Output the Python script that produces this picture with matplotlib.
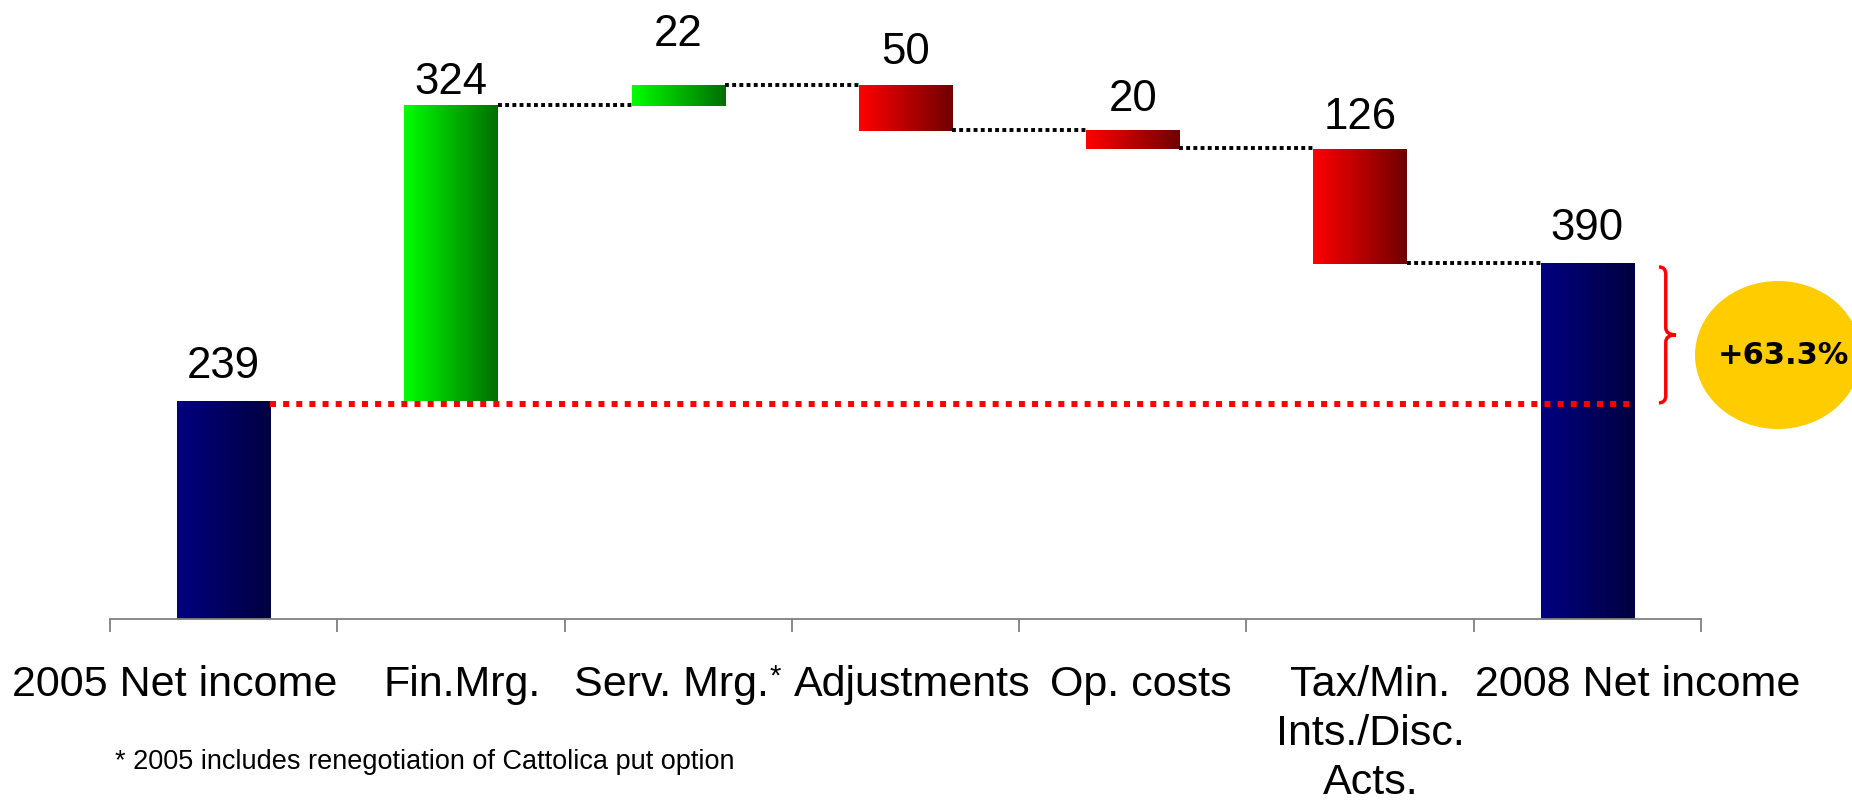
import matplotlib
matplotlib.use("Agg")
import matplotlib.pyplot as plt
import numpy as np
from matplotlib.patches import Ellipse, PathPatch
from matplotlib.path import Path

# Waterfall data (EUR mln)
categories = ["2005 Net income", "Fin.Mrg.", "Serv. Mrg.", "Adjustments",
              "Op. costs", "Tax/Min.\nInts./Disc.\nActs.", "2008 Net income"]
values = [239, 324, 22, -50, -20, -126, 390]
kinds = ["total", "up", "up", "down", "down", "down", "total"]
starred = [False, False, True, False, False, False, False]
growth_label = "+63.3%"
footnote = "* 2005 includes renegotiation of Cattolica put option"

plt.rcParams['font.family'] = ['Liberation Sans', 'DejaVu Sans']

gradients = {
    "total": ((0, 0, 128), (0, 0, 64)),
    "up": ((0, 255, 0), (0, 110, 0)),
    "down": ((255, 0, 0), (112, 0, 0)),
}

W, H, dpi = 1852, 801, 100
fig = plt.figure(figsize=(W / dpi, H / dpi), dpi=dpi)
ax = fig.add_axes([110 / W, 1 - 619 / H, (1701 - 110) / W, 619 / H])

bar_w = 0.41
label_pad = [10, 2, 22, 9, 8, 8, 10]       # points above bar top
name_dx = [-0.215, 0.05, -0.03, 0.03, 0.035, 0.045, 0.22]

# compute bar bottoms / tops
running = 0
bottoms, tops = [], []
for v, k in zip(values, kinds):
    if k == "total":
        bottoms.append(0)
        tops.append(v)
        running = v
    else:
        bottoms.append(min(running, running + v))
        tops.append(max(running, running + v))
        running += v

xs = np.arange(len(values))
for i, (x, b, t, k) in enumerate(zip(xs, bottoms, tops, kinds)):
    c0, c1 = gradients[k]
    n = 256
    f = np.linspace(0, 1, n)[None, :, None]
    img = (np.array(c0)[None, None, :] * (1 - f) + np.array(c1)[None, None, :] * f) / 255.0
    ax.imshow(img, extent=[x - bar_w / 2, x + bar_w / 2, b, t],
              aspect='auto', interpolation='bilinear', zorder=2)
    ax.annotate(str(abs(values[i])), (x, t), xytext=(0, label_pad[i]),
                textcoords='offset points', ha='center', va='bottom',
                fontsize=31.5, color='black')

# connectors
for i in range(1, len(values) - 1):
    level = tops[i] if values[i] > 0 else bottoms[i]
    ax.plot([xs[i] + bar_w / 2, xs[i + 1] - bar_w / 2], [level + 1, level + 1],
            color='black', lw=2.8, linestyle=(0, (1, 0.85)), zorder=3)

# red reference line at 2005 level
ax.plot([xs[0] + bar_w / 2, xs[-1] + bar_w / 2 - 0.02], [values[0] - 3, values[0] - 3],
        color='#ff0000', lw=4.3, linestyle=(0, (1, 1.2)), zorder=4)

# brace between 2005 and 2008 levels
y_top, y_bot = values[-1] - 4, values[0] - 2
y_mid = (y_top + y_bot) / 2
x0, x1, x2 = 6.315, 6.345, 6.39
r = 8
verts = [(x0, y_top), (x1, y_top), (x1, y_top - r),
         (x1, y_mid + r), (x1, y_mid), (x2, y_mid),
         (x1, y_mid), (x1, y_mid - r),
         (x1, y_bot + r), (x1, y_bot), (x0, y_bot)]
codes = [Path.MOVETO, Path.CURVE3, Path.CURVE3,
         Path.LINETO, Path.CURVE3, Path.CURVE3,
         Path.CURVE3, Path.CURVE3,
         Path.LINETO, Path.CURVE3, Path.CURVE3]
ax.add_patch(PathPatch(Path(verts, codes), facecolor='none', edgecolor='#ff0000',
                       lw=2.5, clip_on=False, zorder=5))

ax.set_xlim(-0.5, len(values) - 0.5)
ax.set_ylim(0, 619 / 0.912)

for s in ['top', 'right', 'left']:
    ax.spines[s].set_visible(False)
ax.spines['bottom'].set_color('#808080')
ax.spines['bottom'].set_linewidth(1.3)
ax.set_yticks([])
ax.set_xticks(np.arange(-0.5, len(values)))
ax.set_xticklabels([])
ax.tick_params(axis='x', direction='out', length=9, width=1.3, color='#808080')

for i, name in enumerate(categories):
    t = ax.text(xs[i] + name_dx[i], -0.075, name, transform=ax.get_xaxis_transform(),
                ha='center', va='top', fontsize=31, linespacing=1.29)
    if starred[i]:
        ax.annotate("*", xy=(1, 1), xycoords=t, xytext=(0.5, 2),
                    textcoords='offset points', ha='left', va='top', fontsize=21)

ell = Ellipse((1778 / W, 1 - 355 / H), 166 / W, 148 / H, transform=fig.transFigure,
              facecolor='#ffcc00', edgecolor='none')
fig.add_artist(ell)
fig.text(1783 / W, 1 - 355 / H, growth_label, ha='center', va='center',
         fontsize=22, fontweight='bold', family='DejaVu Sans')

fig.text(115 / W, 1 - 762 / H, footnote, ha='left', va='center', fontsize=19.5,
         family=['Liberation Sans Narrow', 'Liberation Sans'])

fig.savefig("out.png", dpi=dpi, facecolor='white')
